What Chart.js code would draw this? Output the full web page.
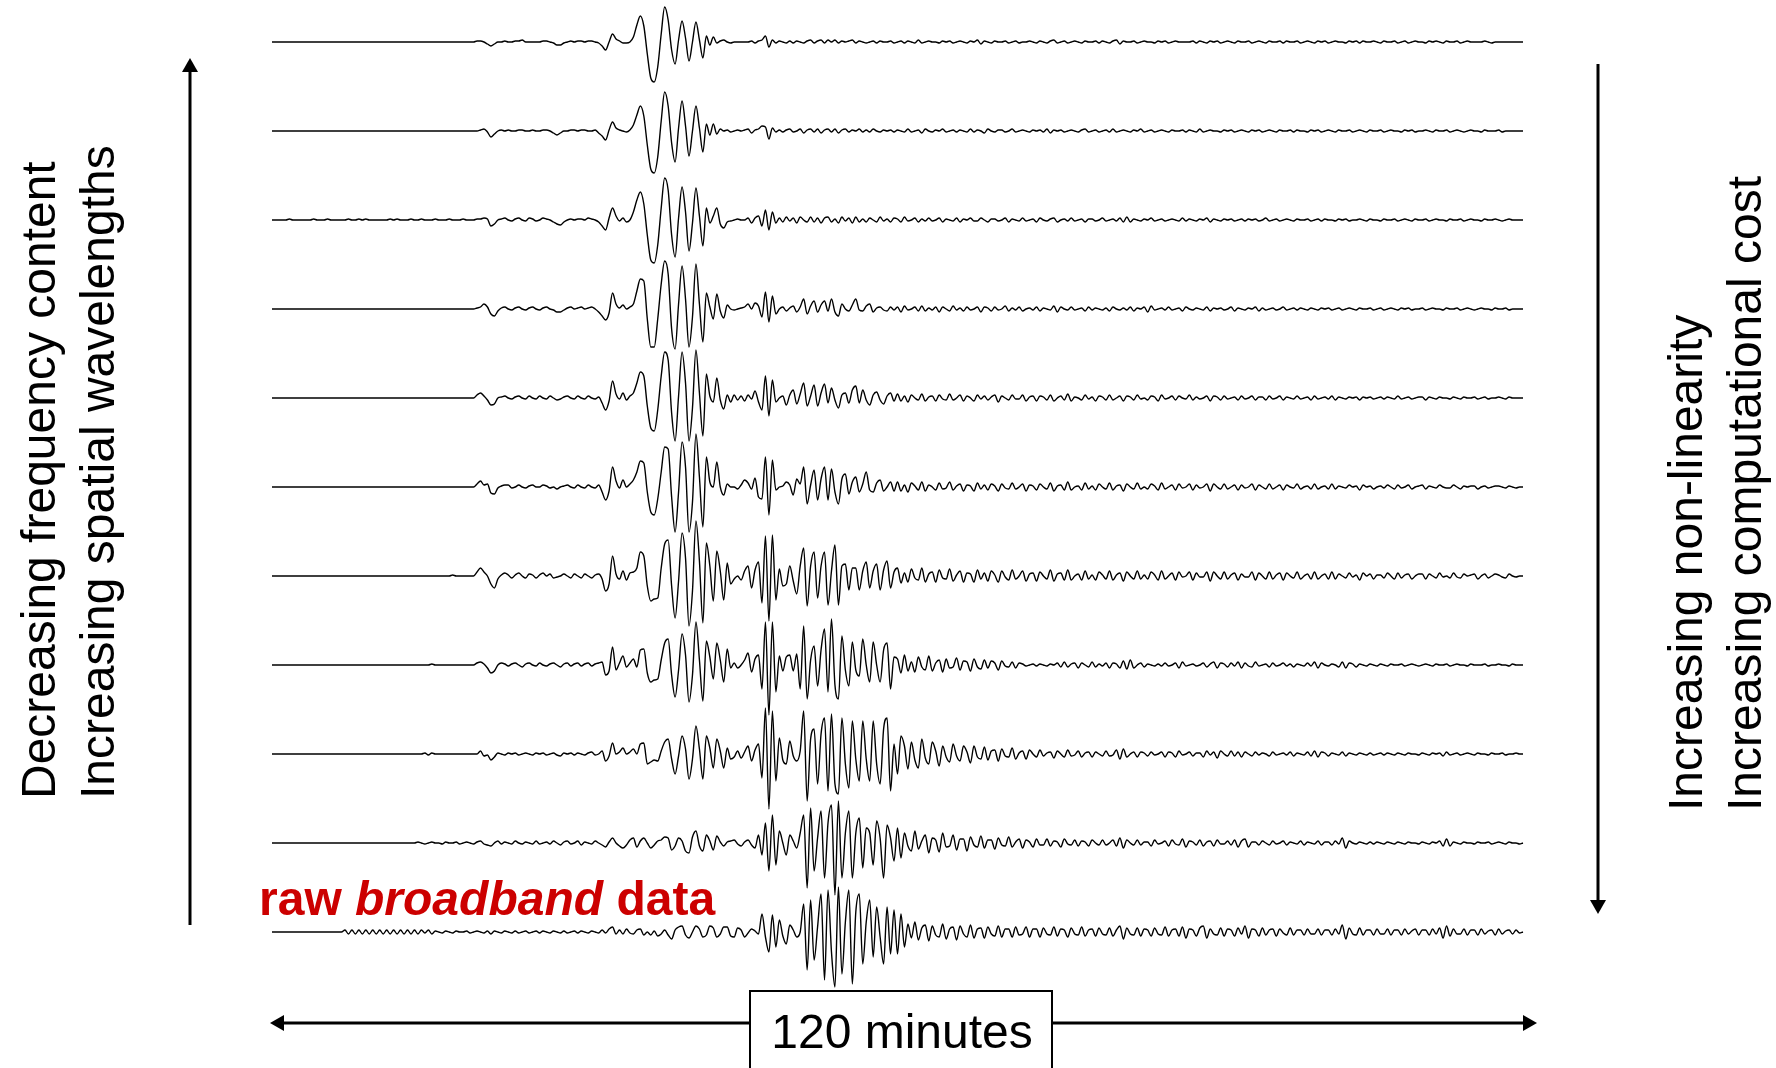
<!DOCTYPE html>
<html>
<head>
<meta charset="utf-8">
<title>Filtered seismograms</title>
<style>
  html, body { margin: 0; padding: 0; background: #fff; }
  #wrap { width: 1776px; height: 1068px; }
</style>
<script src="https://cdn.jsdelivr.net/npm/chart.js"></script>
</head>
<body>
<div id="wrap"><canvas id="seis" width="1776" height="1068"></canvas></div>
<script>
// One sample every 20 s over the 120 minute record (361 samples per trace).
// Amplitudes in display units, positive up. Trace 1 is the most low-passed,
// trace 11 the raw broadband record.
const DT = 1 / 3;

const trace1 = [
  0,0,0,0,0,0,0,0,0,0,0,0,0,0,0,0,0,0,0,0,
  0,0,0,0,0,0,0,0,0,0,0,0,0,0,0,0,0,0,0,0,
  0,0,0,0,0,0,0,0,0,0,0,0,0,0,0,0,0,0,0,1,
  1,0,-2,-4,-2,0,0,1,0,0,1,1,2,0,0,0,0,0,1,1,
  0,-1,-3,-3,-1,0,1,0,1,1,0,1,1,0,-1,-4,-8,0,8,3,
  1,-1,-1,0,5,17,26,16,-12,-36,-40,-25,8,35,22,-8,-22,2,21,4,
  -19,0,20,2,-16,6,-3,5,-1,1,2,0,-1,0,0,0,0,0,1,-1,
  1,2,6,-5,2,-1,1,0,-1,1,-1,1,0,-1,1,2,-1,1,2,-1,
  2,0,2,-1,1,0,1,2,-1,1,0,-1,0,1,-1,1,0,0,1,-1,
  0,1,-1,1,0,-1,2,-1,0,1,0,0,-1,1,0,1,-1,0,1,0,
  -1,1,0,2,-2,1,0,-1,1,0,0,1,-1,0,1,-1,0,0,1,0,
  -1,1,0,-1,1,2,-1,0,1,-1,0,1,0,-1,1,0,0,1,-1,1,
  0,-1,1,2,-2,1,0,0,1,-1,0,1,0,0,-1,1,0,1,-1,0,
  1,0,0,0,0,1,-1,1,0,-1,1,0,1,-1,0,1,0,-1,1,0,
  0,1,-1,0,1,0,-1,1,0,0,1,-1,1,0,0,1,-1,0,1,0,
  -1,1,0,1,-1,0,1,0,0,-1,1,0,1,-1,1,0,0,1,0,-1,
  1,0,0,1,-1,0,1,-1,0,1,0,0,-1,1,0,1,0,-1,1,0,
  0,1,-1,0,1,0,0,0,0,1,0,-1,0,0,0,0,0,0,0,0,
  0
];

const trace2 = [
  0,0,0,0,0,0,0,0,0,0,0,0,0,0,0,0,0,0,0,0,
  0,0,0,0,0,0,0,0,0,0,0,0,0,0,0,0,0,0,0,0,
  0,0,0,0,0,0,0,0,0,0,0,0,0,0,0,0,0,0,0,0,
  1,2,-1,-6,-3,0,1,0,1,0,0,1,1,0,0,1,0,0,1,1,
  0,-2,-4,-2,0,0,1,1,0,1,1,0,0,1,-2,-5,-9,1,9,3,
  1,0,-1,1,6,16,25,15,-14,-38,-42,-26,10,39,25,-12,-31,3,30,5,
  -25,0,25,3,-21,7,-4,7,-3,2,0,1,-1,0,1,0,1,2,-2,1,
  2,5,4,-8,3,-1,1,-1,1,2,-1,0,2,-2,1,2,-1,2,-2,1,
  2,-1,2,-2,1,2,-1,1,0,2,-1,1,-1,2,0,-1,1,0,1,-1,
  1,0,-1,2,-1,0,1,-2,2,0,-1,1,0,2,-1,0,1,-1,1,0,
  -1,2,-1,1,0,-2,2,0,-1,1,1,-1,0,2,-1,0,1,0,-1,1,
  0,1,-1,2,-2,1,0,1,-1,0,1,0,-1,1,2,-1,0,1,-1,0,
  1,-1,2,-1,0,1,0,-1,1,0,2,-1,0,1,-1,0,1,0,-1,1,
  0,0,1,-1,1,0,-1,2,-1,0,1,0,0,-1,1,0,1,-1,0,1,
  0,-1,1,0,1,-1,0,1,0,-1,1,0,0,1,-1,1,0,0,-1,1,
  0,1,-1,0,1,0,-1,1,0,0,1,-1,0,1,0,-1,1,0,0,1,
  -1,0,1,0,0,-1,1,0,1,-1,0,0,1,0,-1,1,0,0,1,-1,
  0,1,0,-1,0,1,0,0,-1,1,0,0,0,1,-1,0,0,0,0,0,
  0
];

const trace3 = [
  0,0,0,0,0,1,0,0,0,0,0,0,1,0,0,0,1,0,0,0,
  0,0,1,0,0,1,0,1,0,0,0,0,0,0,1,0,1,0,0,0,
  1,0,0,1,0,0,0,1,0,0,0,1,0,0,0,1,0,0,0,1,
  1,2,1,-6,-4,0,1,2,0,-1,1,2,0,-1,2,1,-1,0,2,1,
  0,-2,-4,-5,-2,0,1,0,1,1,0,2,1,0,-2,-6,-10,2,12,4,
  -1,2,-2,0,8,20,28,16,-15,-40,-43,-25,12,42,30,-15,-37,2,33,8,
  -31,-3,32,4,-26,12,-3,4,12,-4,-8,-2,-1,0,1,0,0,2,-3,2,
  4,-6,10,-10,8,-3,2,-2,3,-1,2,-3,3,0,-2,3,-2,2,-3,2,
  3,-2,1,-3,3,-1,2,-3,3,-2,1,-2,2,0,-2,3,-1,1,-2,2,
  1,-2,3,-1,0,2,-2,1,-1,2,-1,0,2,-2,1,0,-1,2,-2,1,
  0,2,-1,-1,2,0,-2,1,1,-1,0,2,-2,1,0,-1,2,-1,0,1,
  -2,2,0,-1,1,2,-2,0,1,-1,2,-1,0,1,-2,1,1,-1,0,2,
  -1,0,1,-1,2,-2,3,-2,1,0,-1,1,0,2,-1,0,1,-1,0,1,
  0,-1,2,-1,1,0,-1,1,0,2,-2,1,0,-1,1,0,1,-1,0,1,
  -1,1,0,1,-1,0,2,-1,0,1,-1,0,1,0,-1,1,0,0,1,-1,
  0,1,-1,1,0,0,-1,1,0,1,-1,0,0,1,0,-1,1,0,0,-1,
  1,0,0,1,-1,0,1,0,-1,1,0,0,1,-1,0,1,0,0,-1,1,
  0,0,1,-1,0,1,0,0,-1,1,0,0,1,0,-1,0,1,0,0,0,
  0
];

const trace4 = [
  0,0,0,0,0,0,0,0,0,0,0,0,0,0,0,0,0,0,0,0,
  0,0,0,0,0,0,0,0,0,0,0,0,0,0,0,0,0,0,0,0,
  0,0,0,0,0,0,0,0,0,0,0,0,0,0,0,0,0,0,0,1,
  2,5,2,-5,-7,-2,1,2,0,-1,1,2,0,-1,1,2,0,-1,1,2,
  0,-1,-3,-3,-1,1,2,0,1,2,0,1,2,0,-3,-7,-11,-4,16,5,
  1,4,0,2,5,18,30,28,-10,-38,-38,-10,25,48,35,-20,-40,5,43,10,
  -38,-8,45,5,-33,16,2,-10,15,-2,-9,4,0,-1,0,1,2,5,0,6,
  3,-8,17,-13,13,-5,0,2,-2,1,3,-3,2,10,-5,3,8,-3,4,8,
  -2,10,-3,-7,5,0,-2,4,10,-1,-2,3,5,-3,1,2,-1,-2,2,-1,
  2,-3,3,-1,0,2,-2,3,-2,1,-1,2,-3,2,0,-2,3,-1,1,-2,
  2,-1,0,2,-3,2,1,-2,2,-1,0,3,-2,1,-1,2,-2,0,1,-1,
  2,-2,1,0,-1,3,-3,2,0,-1,2,-1,0,1,-2,2,-1,1,0,-1,
  1,-2,2,0,-1,1,-1,2,-2,1,0,2,-3,3,-1,0,1,-1,2,-1,
  0,1,-2,2,0,-1,1,0,-1,2,-2,1,0,1,-1,0,2,-2,1,0,
  -1,1,0,2,-2,1,-1,0,1,-1,0,2,-1,0,1,-1,1,0,-1,1,
  0,-1,1,0,1,-1,0,1,-1,0,1,0,-1,1,0,0,1,-1,0,1,
  -1,0,1,0,-1,1,0,1,-1,0,0,1,-1,0,1,0,0,-1,1,0,
  0,1,-1,0,1,0,-1,0,1,0,0,-1,1,0,0,1,-1,0,0,0,
  0
];

const trace5 = [
  0,0,0,0,0,0,0,0,0,0,0,0,0,0,0,0,0,0,0,0,
  0,0,0,0,0,0,0,0,0,0,0,0,0,0,0,0,0,0,0,0,
  0,0,0,0,0,0,0,0,0,0,0,0,0,0,0,0,0,0,0,3,
  5,2,-2,-7,-6,0,1,2,0,-1,1,2,0,-1,2,0,-1,2,0,-1,
  2,0,-2,-1,1,2,0,-1,2,0,-1,2,0,-1,1,-5,-12,-3,17,4,
  -1,5,-2,2,5,15,26,22,-8,-30,-33,-12,22,46,38,-15,-43,2,46,15,
  -43,-10,48,5,-38,24,2,-4,20,-2,-11,3,-4,3,-2,2,-3,3,-1,7,
  -4,-12,22,-18,18,-4,0,2,-7,3,8,-6,4,15,-8,2,13,-8,5,14,
  -5,10,-2,-10,3,5,-5,8,12,-5,8,-2,-7,3,6,-2,-6,2,5,-3,
  4,-3,2,-4,3,0,-2,4,-3,1,2,-3,3,-1,-2,4,-2,0,3,-3,
  2,0,-3,3,-1,2,-2,1,3,-4,2,0,-2,3,-1,-1,3,-3,1,2,
  -3,2,1,-2,3,-3,0,2,-2,4,-3,1,0,-2,3,-1,1,-3,2,1,
  -2,3,-2,0,2,-3,2,1,-2,3,-1,0,-2,2,1,-3,3,-1,0,2,
  -2,2,0,-1,3,-2,1,-1,0,2,-3,2,1,-2,2,-1,0,1,-2,2,
  -1,0,2,-2,1,1,-2,2,-1,0,2,-2,1,0,-1,2,-1,0,1,-2,
  2,-1,0,1,-1,2,-2,1,0,-1,1,0,1,-2,1,0,1,-1,0,1,
  -1,1,0,-1,2,-1,0,1,-1,0,1,1,-2,1,0,-1,1,0,0,-1,
  1,0,-1,1,0,0,1,-1,0,1,-1,0,0,1,0,-1,1,0,0,0,
  0
];

const trace6 = [
  0,0,0,0,0,0,0,0,0,0,0,0,0,0,0,0,0,0,0,0,
  0,0,0,0,0,0,0,0,0,0,0,0,0,0,0,0,0,0,0,0,
  0,0,0,0,0,0,0,0,0,0,0,0,0,0,0,0,0,0,0,3,
  6,2,3,-6,-7,-1,1,2,2,-1,0,2,0,-1,1,2,0,0,2,1,
  -1,0,-2,0,1,2,0,-1,2,0,-1,2,0,-1,2,-5,-13,-4,20,6,
  -1,7,0,3,7,15,26,24,-5,-25,-28,-12,15,40,38,-10,-45,-5,45,20,
  -45,-15,53,10,-40,30,5,0,25,0,-8,3,0,0,-2,2,7,4,-2,9,
  -10,-12,30,-28,27,-3,0,1,5,2,-8,8,3,20,-17,2,17,-13,8,20,
  -13,18,-5,-17,8,13,-7,5,10,-5,3,15,-3,-5,4,7,-4,0,5,-4,
  5,-4,2,-5,4,1,-3,5,-4,2,0,-3,4,-2,-1,5,-3,1,3,-4,
  2,1,-4,4,-2,2,-3,3,1,-4,3,-1,-2,4,-2,0,3,-4,2,1,
  -3,3,0,-2,4,-4,1,2,-3,5,-3,0,1,-3,4,-2,1,-3,3,0,
  -2,4,-3,1,2,-4,3,0,-2,4,-2,0,-2,3,1,-3,4,-2,0,2,
  -3,3,-1,0,3,-3,2,-1,0,3,-4,3,0,-2,3,-2,0,2,-3,2,
  -1,0,3,-3,2,0,-2,3,-2,0,2,-3,2,0,-1,3,-2,0,1,-2,
  3,-2,0,1,-2,3,-2,1,0,-1,2,0,1,-3,2,0,1,-2,0,1,
  -1,2,0,-2,2,-1,0,2,-2,0,1,2,-2,1,0,-1,2,0,-1,-1,
  2,0,-2,1,0,1,1,-2,0,1,-1,0,1,1,0,-1,1,0,-1,0,
  0
];

const trace7 = [
  0,0,0,0,0,0,0,0,0,0,0,0,0,0,0,0,0,0,0,0,
  0,0,0,0,0,0,0,0,0,0,0,0,0,0,0,0,0,0,0,0,
  0,0,0,0,0,0,0,0,0,0,0,0,1,0,0,0,0,0,0,4,
  8,4,0,-8,-12,-3,1,3,1,-2,1,3,0,-2,2,1,-2,1,3,0,
  2,-2,-1,0,2,0,-2,2,0,-2,2,0,-2,1,2,-3,-15,-8,20,2,
  -3,5,-4,3,4,8,24,20,-10,-25,-23,-22,8,32,36,-10,-42,-5,43,18,
  -50,-15,55,15,-47,33,10,-25,25,5,-24,13,-8,-3,0,-4,5,10,-12,6,
  14,-27,40,-45,41,-24,7,-10,-8,10,-5,-18,10,28,-30,10,24,-22,10,24,
  -29,5,31,-29,10,12,-14,8,8,-14,5,14,-12,5,12,-14,6,15,-12,4,
  8,-7,3,-6,7,-2,-4,8,-6,2,4,-6,6,-2,-3,7,-5,1,5,-6,
  3,2,-6,6,-3,3,-5,5,1,-6,5,-1,-4,6,-3,0,5,-5,2,3,
  -5,4,0,-3,6,-5,2,3,-4,6,-4,0,2,-4,5,-3,1,-4,4,1,
  -3,5,-4,1,3,-5,4,0,-3,5,-3,1,-3,4,1,-4,5,-3,0,3,
  -4,4,-1,0,4,-4,3,-1,-1,4,-5,4,0,-3,4,-3,1,3,-4,2,
  -1,-1,4,-4,3,0,-3,4,-3,1,3,-4,3,0,-2,4,-3,0,2,-3,
  4,-3,0,2,-3,4,-3,2,0,-2,3,-1,1,-4,3,0,2,-3,1,1,
  -2,3,0,-3,3,-2,1,2,-3,0,2,2,-3,2,0,-2,3,-1,0,-2,
  3,-1,-2,2,0,1,2,-3,0,2,-2,0,2,1,-1,-2,2,0,-1,0,
  0
];

const trace8 = [
  0,0,0,0,0,0,0,0,0,0,0,0,0,0,0,0,0,0,0,0,
  0,0,0,0,0,0,0,0,0,0,0,0,0,0,0,0,0,0,0,0,
  0,0,0,0,0,0,1,0,0,0,0,0,0,0,0,0,0,0,0,2,
  3,1,-3,-8,-6,0,2,1,-1,1,2,0,-2,1,2,0,-1,2,0,-1,
  1,2,0,-2,1,2,-1,1,2,-1,1,2,-1,1,2,3,-10,-6,18,-5,
  2,9,-2,2,6,-2,15,16,-8,-17,-15,-14,5,22,26,-10,-32,-5,31,10,
  -37,-10,43,5,-36,24,8,-14,22,5,-17,16,-3,2,-3,0,5,12,-7,6,
  10,-24,43,-50,43,-27,9,-6,8,10,-6,11,-24,39,-34,5,19,-21,15,36,
  -27,46,-20,-34,29,-5,-21,23,-5,-11,26,0,-17,23,0,-17,15,22,-24,8,
  6,-8,10,-6,3,-7,8,-2,-5,9,-6,2,5,-7,6,-3,-2,7,-5,4,
  3,-6,6,-2,-4,5,-3,4,2,-5,4,-1,-2,3,-3,2,1,-1,0,1,
  -1,1,0,-1,1,0,2,-2,3,-2,1,2,-3,2,0,-2,3,-2,1,-1,
  2,-3,2,1,-3,4,-4,5,-3,0,2,-2,1,0,-1,1,-1,2,-1,0,
  2,-3,3,-1,0,1,-1,0,2,-2,1,3,-3,2,1,-2,2,-1,3,-3,
  2,-1,-2,3,-1,0,1,-2,2,-1,0,2,-1,1,-2,1,0,-1,2,-1,
  3,-3,2,0,-1,1,0,-2,3,-3,2,1,-2,1,0,-1,1,0,-1,1,
  0,-1,1,0,0,1,-1,0,1,0,-1,0,1,0,-1,1,0,0,1,-1,
  0,1,0,0,-1,1,0,0,0,1,-1,0,0,1,0,0,-1,1,0,0,
  0
];

const trace9 = [
  0,0,0,0,0,0,0,0,0,0,0,0,0,0,0,0,0,0,0,0,
  0,0,0,0,0,0,0,0,0,0,0,0,0,0,0,0,0,0,0,0,
  0,0,0,0,1,-1,1,0,0,0,0,0,0,0,0,0,0,0,0,0,
  3,-2,-1,-6,-3,1,0,-1,1,0,1,-1,0,1,0,-1,1,0,1,-1,
  0,1,-1,-2,1,0,1,-1,1,0,-1,1,2,-1,0,3,-7,-2,11,0,
  2,6,0,2,5,0,10,11,-10,-8,-6,-7,3,12,15,-5,-20,-2,18,5,
  -25,-5,28,5,-25,18,6,-14,15,3,-14,6,-5,-3,3,-4,2,8,-7,4,
  10,-24,46,-55,43,-27,16,-6,-10,13,-2,-7,3,43,-47,15,25,-30,20,36,
  -37,40,-30,-40,36,-10,-34,33,-5,-27,33,-5,-27,33,-10,-30,25,36,-37,10,
  -20,18,8,-15,12,-6,-14,15,-4,-10,12,3,-12,8,-3,-8,10,-2,-7,8,
  2,-9,8,-3,-5,7,-6,3,4,-7,5,-2,-3,6,-5,1,3,-5,4,0,
  -3,4,-2,1,2,-4,3,0,-3,4,-2,-1,3,-3,1,2,-3,2,0,-2,
  3,-2,-1,4,-5,5,-3,0,2,-3,2,1,-2,2,-1,0,2,-3,2,1,
  -3,3,-1,0,2,-2,1,1,-3,3,-1,2,-4,3,0,-2,3,-2,2,-3,
  2,0,-2,2,-1,1,0,-2,2,-1,0,1,-1,2,-2,1,0,-1,2,-2,
  3,-3,2,1,-2,1,0,-1,2,-2,1,0,-1,1,0,-1,1,-1,0,1,
  -1,1,0,-1,1,0,-1,1,0,0,-1,1,0,-1,1,0,1,-2,2,-1,
  0,1,-1,0,1,0,-1,1,0,0,-1,1,0,0,1,-1,0,0,1,0,
  0
];

const trace10 = [
  0,0,0,0,0,0,0,0,0,0,0,0,0,0,0,0,0,0,0,0,
  0,0,0,0,0,0,0,0,0,0,0,0,0,0,0,0,0,0,0,0,
  0,0,1,0,-1,0,1,0,0,-1,1,0,0,1,-1,0,1,0,-1,1,
  2,-1,-2,-3,0,2,-1,1,0,-1,2,0,-1,1,0,-1,2,-1,0,1,
  -1,2,0,-2,1,2,-1,0,2,-2,1,0,-1,2,0,-2,-4,1,5,0,
  -3,-5,-2,3,5,-4,2,5,0,-5,-2,2,3,6,5,-7,-3,5,2,-8,
  -10,6,12,-3,-8,8,2,-7,7,1,-3,1,2,3,-1,-3,1,3,-2,-5,
  8,-12,20,-28,28,-22,12,0,-12,8,2,-5,10,28,-45,35,-28,5,32,-35,
  20,38,-52,42,-35,10,32,-35,10,25,-25,15,10,-22,22,5,-35,18,5,-18,
  15,-15,10,-3,-8,12,-6,2,8,-10,5,3,-9,10,-4,-3,8,-7,4,4,
  -8,6,-2,-4,7,-5,3,3,-6,5,-2,-3,6,-4,1,4,-5,3,1,-4,
  4,-2,-2,4,-3,2,1,-4,4,-1,-2,3,-3,2,1,-3,3,0,-2,3,
  -2,0,3,-3,5,-5,3,0,-2,3,-2,1,1,-3,3,-1,0,2,-3,3,
  -1,-2,4,-4,2,1,-2,3,-3,1,2,-3,3,-1,-1,2,-2,3,-4,2,
  4,-4,1,1,-2,2,0,-2,2,-1,0,2,-2,1,0,-1,2,-2,1,0,
  -1,2,-2,1,1,-2,2,-1,5,-5,2,0,-1,1,0,-1,1,-1,1,0,
  -1,1,0,-1,1,0,-1,1,0,0,-1,1,0,-1,1,0,2,-3,4,-3,
  1,0,-1,1,0,0,-1,1,0,0,1,-1,0,1,0,-1,1,0,0,-1,
  0
];

const trace11 = [
  0,0,0,0,0,0,0,0,0,0,0,0,0,0,0,0,0,0,0,0,
  0,2,-2,2,-2,2,-2,2,-2,2,-2,2,-2,2,-2,2,-2,2,-2,2,
  -2,2,-2,2,-1,2,-2,1,0,-1,1,0,-1,1,0,0,1,-1,0,1,
  0,-1,1,-2,1,0,-1,1,0,-1,1,-1,0,1,-1,0,1,-1,1,0,
  -1,1,0,-1,1,-1,0,1,-1,1,0,-1,1,0,-1,2,-1,3,5,-2,
  2,-2,3,-1,-2,2,3,-3,0,-3,1,-4,-2,2,-3,-7,2,5,6,-3,
  -6,0,6,3,-5,-3,6,4,-5,-2,5,5,-4,-5,4,2,-5,-1,3,1,
  -2,18,-5,-20,17,-15,12,-4,-12,7,2,-5,0,28,-38,32,-28,5,38,-48,
  42,-20,-55,45,-42,10,42,-52,20,38,-32,10,32,-25,25,-5,-32,25,-22,22,
  -22,18,-15,8,-6,10,-8,4,7,-9,6,-3,-5,8,-7,3,5,-8,6,-2,
  -5,7,-6,3,4,-6,5,-2,-4,6,-5,3,3,-5,5,-3,-2,5,-5,3,
  3,-5,4,-2,-3,5,-4,3,2,-5,4,-2,-3,5,-4,2,3,-4,4,-2,
  -3,4,-4,2,6,-7,4,-2,-3,4,-4,3,2,-4,4,-2,-3,5,-4,2,
  3,-4,5,-6,3,2,-4,4,6,-6,3,-2,-3,4,-4,3,2,-4,4,-2,
  6,-6,3,2,-4,4,-3,2,3,-4,3,-1,-3,4,-3,2,2,-3,3,-2,
  -2,3,-3,2,2,-3,3,-2,7,-7,4,-2,-3,4,-3,2,2,-3,3,-2,
  -2,3,-3,2,2,-3,3,-2,1,3,-3,2,2,-3,3,-2,4,-6,6,-4,
  3,-2,-2,3,-3,2,2,-3,3,-2,1,2,-3,3,-2,1,2,-2,2,-1,
  0
];

const traces = [trace1, trace2, trace3, trace4, trace5, trace6,
                trace7, trace8, trace9, trace10, trace11];

const leftLabels = ['Decreasing frequency content', 'Increasing spatial wavelengths'];
const rightLabels = ['Increasing non-linearity', 'Increasing computational cost'];
const spanLabel = '120 minutes';
const rawLabel = [['raw ', 'bold'], ['broadband', 'italic bold'], [' data', 'bold']];

// vertical layout: y axis runs 0..1068 so one unit is one pixel
const TOP_BASE = 1026;
const TRACE_GAP = 89;

const datasets = traces.map((tr, k) => ({
  data: tr.map((v, i) => ({ x: i * DT, y: TOP_BASE - k * TRACE_GAP + v })),
  borderColor: '#000',
  borderWidth: 1.4,
  pointRadius: 0,
  cubicInterpolationMode: 'monotone',
  clip: false
}));

const FONT = '"Liberation Sans", Arial, sans-serif';

function arrowHead(ctx, x, y, dir) {
  // dir: 'up' | 'down' | 'left' | 'right', (x, y) is the tip
  const L = 14, W = 8;
  ctx.beginPath();
  ctx.moveTo(x, y);
  if (dir === 'up')    { ctx.lineTo(x - W, y + L); ctx.lineTo(x + W, y + L); }
  if (dir === 'down')  { ctx.lineTo(x - W, y - L); ctx.lineTo(x + W, y - L); }
  if (dir === 'left')  { ctx.lineTo(x + L, y - W); ctx.lineTo(x + L, y + W); }
  if (dir === 'right') { ctx.lineTo(x - L, y - W); ctx.lineTo(x - L, y + W); }
  ctx.closePath();
  ctx.fill();
}

function rotatedText(ctx, text, x, y) {
  ctx.save();
  ctx.translate(x, y);
  ctx.rotate(-Math.PI / 2);
  ctx.fillText(text, 0, 0);
  ctx.restore();
}

const annotations = {
  id: 'annotations',
  afterDraw(chart) {
    const ctx = chart.ctx;
    ctx.save();
    ctx.fillStyle = '#000';
    ctx.strokeStyle = '#000';
    ctx.lineWidth = 3;

    // left arrow (up) and right arrow (down)
    ctx.beginPath(); ctx.moveTo(190, 925); ctx.lineTo(190, 70); ctx.stroke();
    arrowHead(ctx, 190, 58, 'up');
    ctx.beginPath(); ctx.moveTo(1598, 64); ctx.lineTo(1598, 902); ctx.stroke();
    arrowHead(ctx, 1598, 914, 'down');

    // time span arrow along the bottom
    ctx.beginPath(); ctx.moveTo(282, 1023); ctx.lineTo(1525, 1023); ctx.stroke();
    arrowHead(ctx, 270, 1023, 'left');
    arrowHead(ctx, 1537, 1023, 'right');

    // boxed span label
    ctx.fillStyle = '#fff';
    ctx.fillRect(750, 991, 302, 90);
    ctx.lineWidth = 2;
    ctx.strokeRect(750, 991, 302, 90);
    ctx.fillStyle = '#000';
    ctx.font = '48px ' + FONT;
    ctx.textAlign = 'center';
    ctx.textBaseline = 'alphabetic';
    ctx.fillText(spanLabel, 902, 1048);

    // side captions
    ctx.textAlign = 'left';
    rotatedText(ctx, leftLabels[0], 55, 799);
    rotatedText(ctx, leftLabels[1], 114, 799);
    rotatedText(ctx, rightLabels[0], 1702, 811);
    rotatedText(ctx, rightLabels[1], 1761, 811);

    // red caption above the raw trace
    ctx.fillStyle = 'rgb(204,0,0)';
    let x = 259;
    rawLabel.forEach(([txt, style]) => {
      ctx.font = style + ' 48px ' + FONT;
      ctx.fillText(txt, x, 915);
      x += ctx.measureText(txt).width;
    });
    ctx.restore();
  }
};

new Chart(document.getElementById('seis'), {
  type: 'line',
  data: { datasets },
  options: {
    responsive: false,
    animation: false,
    devicePixelRatio: 1,
    layout: { padding: { left: 272, right: 253, top: 0, bottom: 0 } },
    plugins: { legend: { display: false }, tooltip: { enabled: false } },
    scales: {
      x: { type: 'linear', min: 0, max: 120, display: false },
      y: { min: 0, max: 1068, display: false }
    }
  },
  plugins: [annotations]
});
</script>
</body>
</html>
